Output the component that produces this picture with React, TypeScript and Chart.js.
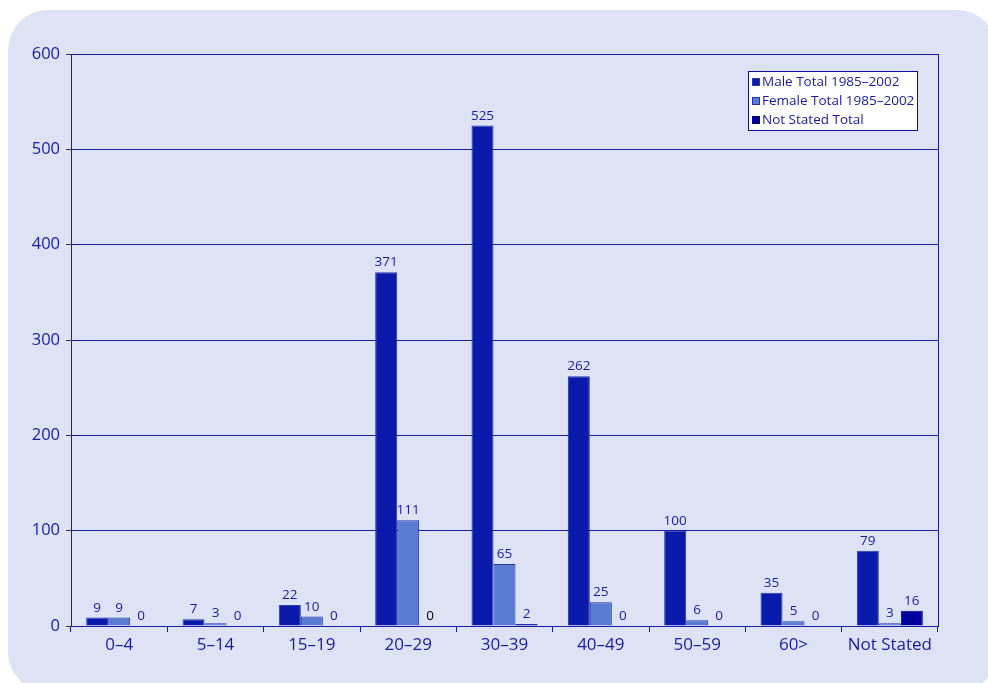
import React, { useEffect, useRef } from "react";
import { Chart, registerables } from "chart.js";

Chart.register(...registerables);

const categories = ["0–4", "5–14", "15–19", "20–29", "30–39", "40–49", "50–59", "60>", "Not Stated"];
const maleTotals = [9, 7, 22, 371, 525, 262, 100, 35, 79];
const femaleTotals = [9, 3, 10, 111, 65, 25, 6, 5, 3];
const notStatedTotals = [0, 0, 0, 0, 2, 0, 0, 0, 16];
const seriesLabels = ["Male Total 1985–2002", "Female Total 1985–2002", "Not Stated Total"];
const yTicks = [0, 100, 200, 300, 400, 500, 600];

const NAVY = "#1a1aa0";
const FONT = "'Open Sans', 'Noto Sans', sans-serif";

const labelsPlugin = {
  id: "valueLabels",
  afterDatasetsDraw(chart: any) {
    const ctx = chart.ctx;
    ctx.save();
    ctx.font = `13.5px ${FONT}`;
    ctx.textAlign = "center";
    ctx.textBaseline = "bottom";
    chart.data.datasets.forEach((ds: any, di: number) => {
      const meta = chart.getDatasetMeta(di);
      meta.data.forEach((bar: any, i: number) => {
        const v = ds.data[i];
        ctx.fillStyle = di === 2 && i === 3 ? "#000000" : NAVY;
        ctx.fillText(String(v), bar.x, bar.y - 3);
      });
    });
    ctx.restore();
  },
};

const framePlugin = {
  id: "frame",
  afterDraw(chart: any) {
    const { ctx, chartArea } = chart;
    ctx.save();
    ctx.strokeStyle = NAVY;
    ctx.lineWidth = 1;
    ctx.beginPath();
    ctx.moveTo(Math.round(chartArea.right) + 0.5, chartArea.top);
    ctx.lineTo(Math.round(chartArea.right) + 0.5, chartArea.bottom);
    ctx.stroke();
    ctx.restore();
  },
};

const legendPlugin = {
  id: "boxLegend",
  afterDraw(chart: any) {
    const { ctx, chartArea } = chart;
    const w = 169;
    const h = 59;
    const x = chartArea.right - 21 - w;
    const y = chartArea.top + 17;
    ctx.save();
    ctx.fillStyle = "#ffffff";
    ctx.fillRect(x, y, w, h);
    ctx.strokeStyle = "#1010a0";
    ctx.lineWidth = 1;
    ctx.strokeRect(x + 0.5, y + 0.5, w, h);
    ctx.font = `13.5px ${FONT}`;
    ctx.textBaseline = "middle";
    ctx.textAlign = "left";
    chart.data.datasets.forEach((ds: any, i: number) => {
      const cy = y + 11 + i * 19;
      ctx.fillStyle = ds.backgroundColor;
      ctx.fillRect(x + 4, cy - 4, 8, 8);
      ctx.strokeStyle = ds.borderColor;
      ctx.strokeRect(x + 4.5, cy - 3.5, 7, 7);
      ctx.fillStyle = NAVY;
      ctx.fillText(ds.label, x + 14, cy);
    });
    ctx.restore();
  },
};

export default function App() {
  const ref = useRef<HTMLCanvasElement>(null);

  useEffect(() => {
    document.body.style.margin = "0";
    const chart = new Chart(ref.current!, {
      type: "bar",
      data: {
        labels: categories,
        datasets: [
          {
            label: seriesLabels[0],
            data: maleTotals,
            backgroundColor: "#0a1aaa",
            borderColor: "#2a38a8",
            borderWidth: 1,
          },
          {
            label: seriesLabels[1],
            data: femaleTotals,
            backgroundColor: "#5a7bd2",
            borderColor: "#2233a8",
            borderWidth: 1,
          },
          {
            label: seriesLabels[2],
            data: notStatedTotals,
            backgroundColor: "#00009c",
            borderColor: "#00008a",
            borderWidth: 1,
          },
        ],
      },
      options: {
        animation: false,
        responsive: false,
        maintainAspectRatio: false,
        layout: { padding: { top: 54, right: 50, left: 0, bottom: 0 } },
        datasets: { bar: { barPercentage: 1, categoryPercentage: 0.685 } },
        plugins: {
          legend: { display: false },
          tooltip: { enabled: false },
        },
        scales: {
          x: {
            grid: {
              display: true,
              drawOnChartArea: false,
              offset: true,
              tickLength: 6,
              color: NAVY,
            },
            border: { color: NAVY, width: 1 },
            ticks: { color: NAVY, font: { family: FONT, size: 17 }, padding: 3 },
            afterFit(scale: any) {
              scale.height = 57;
            },
          },
          y: {
            min: 0,
            max: 600,
            afterBuildTicks(scale: any) {
              scale.ticks = yTicks.map((v) => ({ value: v }));
            },
            grid: { color: NAVY, tickLength: 5, tickColor: "#333333" },
            border: { color: NAVY, width: 1 },
            ticks: { color: NAVY, font: { family: FONT, size: 16.5 }, padding: 6 },
            afterFit(scale: any) {
              scale.width = 71;
            },
          },
        },
      },
      plugins: [labelsPlugin, framePlugin, legendPlugin],
    });
    return () => chart.destroy();
  }, []);

  return (
    <div style={{ position: "relative", width: 988, height: 683, overflow: "hidden", background: "#ffffff" }}>
      <div
        style={{
          position: "absolute",
          left: 8,
          top: 10,
          width: 989,
          height: 682,
          borderRadius: 40,
          background: "#dde3f5",
        }}
      />
      <canvas ref={ref} width={988} height={683} style={{ position: "absolute", left: 0, top: 0, width: 988, height: 683 }} />
    </div>
  );
}
